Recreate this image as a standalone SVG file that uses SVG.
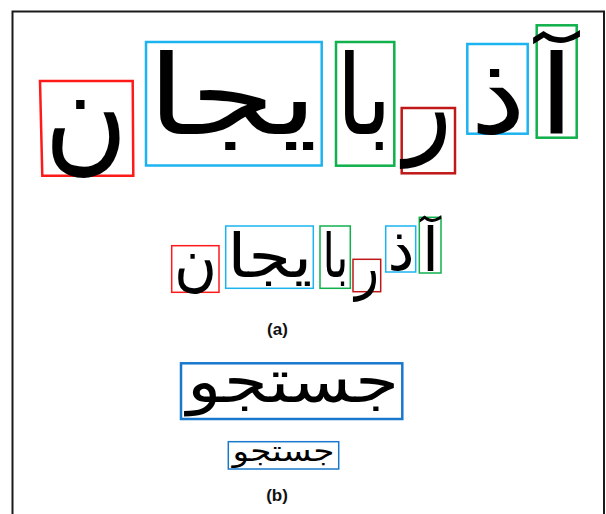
<svg xmlns="http://www.w3.org/2000/svg" width="606" height="514" viewBox="0 0 606 514">
<style>
.fa{font-family:"DejaVu Sans",sans-serif;fill:#000;text-anchor:middle;direction:rtl}
.big{font-size:110px}
.mid{font-size:60px}
.lbl{font-family:"Liberation Sans",Arial,sans-serif;font-size:17px;font-weight:bold;fill:#111;text-anchor:middle}
.box{fill:none;stroke-width:2.5}
.box2{fill:none;stroke-width:1.5}
.red{stroke:#ff1a1a}
.sky{stroke:#1cb4f0}
.grn{stroke:#10b04c}
.drd{stroke:#c01818}
.blu{stroke:#1a78cc}
</style>
<rect x="0" y="0" width="606" height="514" fill="#fff"/>
<path d="M12.5 514 V11.5 H604 V514" fill="none" stroke="#1a1a1a" stroke-width="2"/>

<!-- row 1 -->
<g id="r1-noon"><path class="box red" d="M40 81 H132.7 L133.3 175.7 H42.3 Z"/><text class="fa" style="font-size:124px" x="86" y="158" textLength="84" lengthAdjust="spacingAndGlyphs">ن</text></g>
<g id="r1-yja"><rect class="box sky" x="146" y="42" width="175.7" height="123.5"/><text class="fa big" x="232.5" y="134" textLength="171" lengthAdjust="spacingAndGlyphs">یجا</text></g>
<g id="r1-ba"><rect class="box grn" x="336" y="42" width="58.3" height="123.7"/><text class="fa big" x="364" y="134" textLength="56" lengthAdjust="spacingAndGlyphs">با</text></g>
<g id="r1-re"><rect class="box drd" x="401.7" y="108" width="53.3" height="65.3"/><text class="fa big" x="428" y="142" textLength="48" lengthAdjust="spacingAndGlyphs">ر</text></g>
<g id="r1-zal"><rect class="box sky" x="467.3" y="44" width="60.4" height="89.7"/><text class="fa big" x="498" y="133" textLength="56" lengthAdjust="spacingAndGlyphs">ذ</text></g>
<g id="r1-alef"><rect class="box grn" x="536.7" y="25.3" width="40" height="112.4"/><text class="fa big" x="556.5" y="134" textLength="37" lengthAdjust="spacingAndGlyphs">آ</text></g>

<!-- row 2 -->
<g id="r2-noon"><rect class="box2 red" x="171.7" y="245.7" width="47.3" height="46.6"/><text class="fa" style="font-size:64px" x="195.5" y="284" textLength="43" lengthAdjust="spacingAndGlyphs">ن</text></g>
<g id="r2-yja"><rect class="box2 sky" x="225.7" y="226" width="87.6" height="62.3"/><text class="fa mid" x="269.7" y="277" textLength="85" lengthAdjust="spacingAndGlyphs">یجا</text></g>
<g id="r2-ba"><rect class="box2 grn" x="320" y="226" width="30.3" height="62.3"/><text class="fa mid" x="335.5" y="277" textLength="26" lengthAdjust="spacingAndGlyphs">با</text></g>
<g id="r2-re"><rect class="box2 drd" x="353" y="259.3" width="27.7" height="32.4"/><text class="fa mid" x="367" y="287" textLength="24" lengthAdjust="spacingAndGlyphs">ر</text></g>
<g id="r2-zal"><rect class="box2 sky" x="385.7" y="226" width="30" height="46"/><text class="fa mid" x="401" y="270" textLength="27" lengthAdjust="spacingAndGlyphs">ذ</text></g>
<g id="r2-alef"><rect class="box2 grn" x="419.3" y="217.3" width="21.7" height="55.7"/><text class="fa mid" x="430.5" y="271" textLength="17" lengthAdjust="spacingAndGlyphs">آ</text></g>

<text class="lbl" x="277.5" y="334.5">(a)</text>

<!-- b -->
<g id="b-big"><rect class="box blu" x="181" y="363.3" width="221.3" height="55.7"/><text class="fa" style="font-size:60px" x="293" y="402" textLength="212" lengthAdjust="spacingAndGlyphs">جستجو</text></g>
<g id="b-small"><rect class="box2 blu" x="228.3" y="441.7" width="110.4" height="27.3"/><text class="fa" style="font-size:29px" x="283.5" y="461" textLength="102" lengthAdjust="spacingAndGlyphs">جستجو</text></g>

<text class="lbl" x="277" y="501">(b)</text>
</svg>
